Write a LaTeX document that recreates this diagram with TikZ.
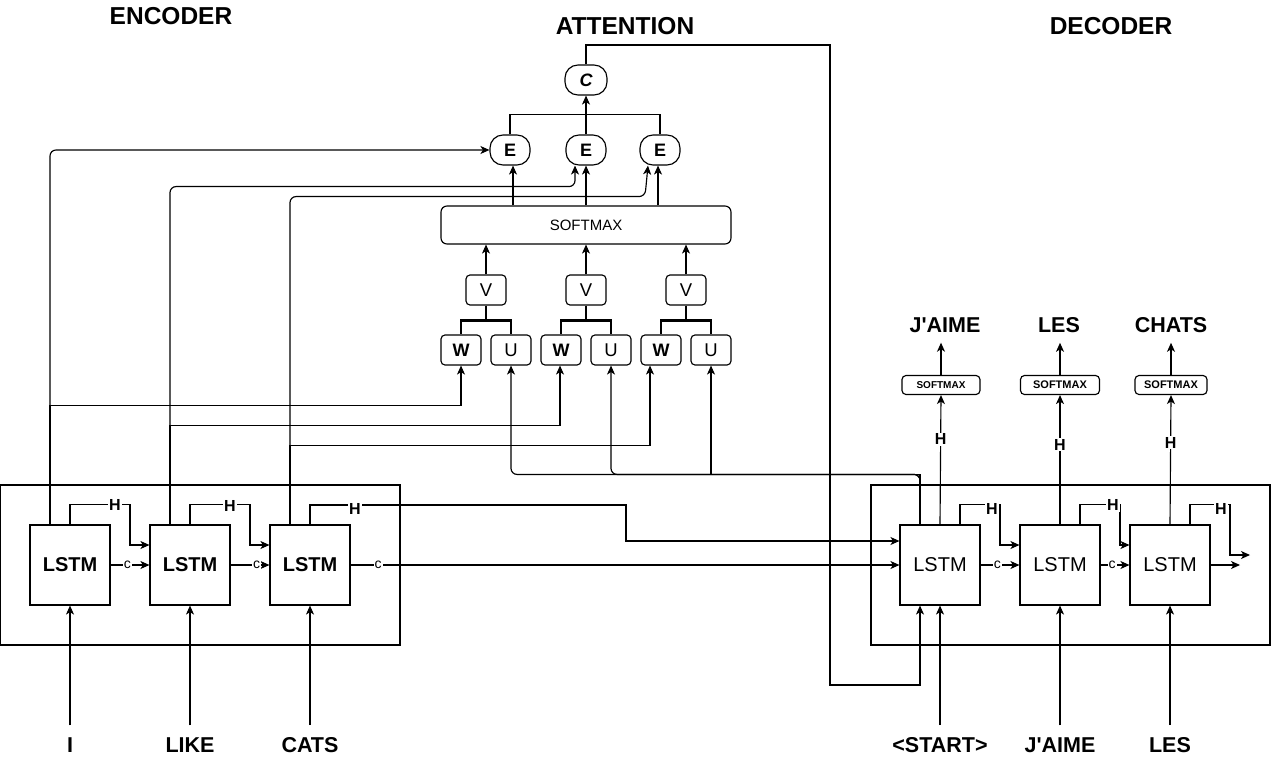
\documentclass[tikz,border=0pt]{standalone}
\usepackage{fontspec}
\setmainfont{Liberation Sans}
\usetikzlibrary{arrows.meta}
\tikzset{
  ln/.style={line width=1.15pt},
  arr/.style={ln,-{Stealth[length=9pt,width=8pt,inset=2.5pt]}},
  rc/.style={rounded corners=6pt},
  title/.style={font=\fontsize{24.5}{28}\selectfont\bfseries, inner sep=0pt},
  word/.style={font=\fontsize{21.5}{25}\selectfont\bfseries, inner sep=0pt},
  lstmE/.style={draw, ln, minimum width=80pt, minimum height=80pt, inner sep=0pt, font=\fontsize{20}{24}\selectfont\bfseries},
  lstmD/.style={draw, ln, minimum width=80pt, minimum height=80pt, inner sep=0pt, font=\fontsize{20}{24}\selectfont},
  outer/.style={draw, ln},
  ebox/.style={draw, ln, rounded corners=13pt, minimum width=40pt, minimum height=30pt, inner sep=0pt, font=\fontsize{18}{20}\selectfont\bfseries},
  sq/.style={draw, ln, rounded corners=4pt, minimum width=40pt, minimum height=30pt, inner sep=0pt, font=\fontsize{18.5}{20}\selectfont},
  smx/.style={draw, ln, rounded corners=4pt, minimum height=19pt, inner sep=0pt, font=\fontsize{11}{12}\selectfont\bfseries},
  hlab/.style={font=\fontsize{16}{18}\selectfont\bfseries, fill=white, inner sep=1pt},
  clab/.style={font=\fontsize{14}{16}\selectfont, fill=white, inner sep=1pt},
  thickln/.style={line width=2.2pt},
}
\begin{document}
\begin{tikzpicture}[x=1pt,y=-1pt]
\useasboundingbox (0,0) rectangle (1271,759);
\fill[white] (0,0) rectangle (1271,759);

% titles
\node[title] (tEnc) at (171,16) {ENCODER};
\node[title] (tAtt) at (625,26) {ATTENTION};
\node[title] (tDec) at (1111,26) {DECODER};

% outer boxes
\draw[outer] (0,485) rectangle (400,645);
\draw[outer] (871,485) rectangle (1270,645);

% encoder LSTMs
\node[lstmE] (eL1) at (70,565) {LSTM};
\node[lstmE] (eL2) at (190,565) {LSTM};
\node[lstmE] (eL3) at (310,565) {LSTM};

% decoder LSTMs
\node[lstmD] (dL1) at (940,565) {LSTM};
\node[lstmD] (dL2) at (1060,565) {LSTM};
\node[lstmD] (dL3) at (1170,565) {LSTM};

% bottom words
\node[word] (wI) at (70,745) {I};
\node[word] (wLike) at (190,745) {LIKE};
\node[word] (wCats) at (310,745) {CATS};
\node[word] (wStart) at (940,745) {<START>};
\node[word] (wJaime) at (1060,745) {J\textquotesingle AIME};
\node[word] (wLes) at (1170,745) {LES};

\foreach \w/\l in {wI/eL1,wLike/eL2,wCats/eL3,wStart/dL1,wJaime/dL2,wLes/dL3}
  \draw[arr] ([yshift=12pt]\w.north) -- (\l.south);

% attention nodes
\node[ebox, font=\fontsize{18}{20}\selectfont\bfseries\itshape, minimum width=42pt] (C) at (586,80) {C};
\node[ebox] (E1) at (510,150) {E};
\node[ebox] (E2) at (586,150) {E};
\node[ebox] (E3) at (660,150) {E};
\node[draw, ln, rounded corners=6pt, minimum width=290pt, minimum height=38pt, inner sep=0pt, font=\fontsize{15}{17}\selectfont] (SM) at (586,225) {SOFTMAX};
\node[sq] (V1) at (486,290) {V};
\node[sq] (V2) at (586,290) {V};
\node[sq] (V3) at (686,290) {V};
\node[sq, font=\fontsize{18}{20}\selectfont\bfseries] (W1) at (461,350) {W};
\node[sq] (U1) at (511,350) {U};
\node[sq, font=\fontsize{18}{20}\selectfont\bfseries] (W2) at (561,350) {W};
\node[sq] (U2) at (611,350) {U};
\node[sq, font=\fontsize{18}{20}\selectfont\bfseries] (W3) at (661,350) {W};
\node[sq] (U3) at (711,350) {U};

% V to W/U
\foreach \v/\w/\u in {V1/W1/U1,V2/W2/U2,V3/W3/U3}{
  \draw[thickln] (\v.south) -- ++(0,15) -| (\w.north);
  \draw[thickln] (\v.south) -- ++(0,15) -| (\u.north);
  \draw[arr] (\v.north) -- (\v.north |- SM.south);
}
% softmax to E
\draw[arr] ([xshift=3pt]E1.south |- SM.north) -- ([xshift=3pt]E1.south);
\draw[arr] (E2.south |- SM.north) -- (E2.south);
\draw[arr] ([xshift=-2pt]E3.south |- SM.north) -- ([xshift=-2pt]E3.south);
% E to C
\draw[ln] (E1.north) -- ++(0,-20) -| (E3.north);
\draw[arr] (E2.north) -- (C.south);

% encoder tops to E
\draw[arr, rc] ([xshift=-20pt]eL1.north) |- (E1.west);
\draw[arr, rc] ([xshift=-20pt]eL2.north) |- ([xshift=-11pt,yshift=-21pt]E2.south) -- ([xshift=-11pt]E2.south);
\draw[arr, rc] ([xshift=-20pt]eL3.north) |- ([xshift=-15pt,yshift=-31pt]E3.south) -- ([xshift=-12pt]E3.south);

% encoder tops to W
\draw[arr] ([xshift=-20pt]eL1.north) -- ++(0,-119) -| (W1.south);
\draw[arr] ([xshift=-20pt]eL2.north) -- ++(0,-99) -| ([xshift=-1pt]W2.south);
\draw[arr] ([xshift=-20pt]eL3.north) -- ++(0,-79) -| ([xshift=-11pt]W3.south);

% decoder top to U
\draw[arr, rc] ([xshift=-20pt]dL1.north) -- ++(0,-50) -| (U1.south);
\draw[arr, rc] ([xshift=-20pt]dL1.north) -- ++(0,-50) -| (U2.south);
\draw[arr] ([xshift=-20pt]dL1.north) -- ++(0,-50) -| (U3.south);

% context to decoder
\coordinate (ctop) at (830,45);
\coordinate (cbot) at (830,685);
\draw[arr] (C.north) |- (ctop) -- (cbot) -| ([xshift=-20pt]dL1.south);

% encoder H and c
\draw[arr] (eL1.north) -- ++(0,-20) -- ++(60,0) |- ([yshift=20pt]eL2.west);
\draw[arr] (eL2.north) -- ++(0,-20) -- ++(60,0) |- ([yshift=20pt]eL3.west);
\coordinate (hm) at (626,505);
\draw[arr] (eL3.north) |- (hm) |- ([yshift=24pt]dL1.west);
\node[hlab] (h1) at (115,505) {H};
\node[hlab] (h2) at (230,506) {H};
\node[hlab] (h3) at (355,509) {H};
\draw[arr] (eL1.east) -- node[clab, pos=0.43] (c1) {c} (eL2.west);
\draw[arr] (eL2.east) -- node[clab, pos=0.67] (c2) {c} (eL3.west);
\draw[arr] (eL3.east) -- node[clab, pos=0.05] (c3) {c} (dL1.west);

% decoder H and c
\draw[arr] ([xshift=20pt]dL1.north) -- ++(0,-20) -- ++(40,0) |- ([yshift=20pt]dL2.west);
\draw[arr] ([xshift=20pt]dL2.north) -- ++(0,-20) -- ++(40,0) |- ([yshift=20pt]dL3.west);
\coordinate (hout) at (1250,555);
\draw[arr] ([xshift=20pt]dL3.north) -- ++(0,-20) -- ++(40,0) |- (hout);
\node[hlab] (dh1) at (992,509) {H};
\node[hlab] (dh2) at (1113,505) {H};
\node[hlab] (dh3) at (1221,509) {H};
\draw[arr] (dL1.east) -- node[clab, pos=0.43] (dc1) {c} (dL2.west);
\draw[arr] (dL2.east) -- node[clab, pos=0.4] (dc2) {c} (dL3.west);
\coordinate (cout) at (1240,565);
\draw[arr] (dL3.east) -- (cout);

% decoder outputs
\node[smx, minimum width=78pt, font=\fontsize{10}{12}\selectfont\bfseries] (s1) at (941,385) {SOFTMAX};
\node[smx, minimum width=79pt] (s2) at (1060,385) {SOFTMAX};
\node[smx, minimum width=72pt] (s3) at (1171,385) {SOFTMAX};
\node[word] (o1) at (945,325) {J\textquotesingle AIME};
\node[word] (o2) at (1059,325) {LES};
\node[word] (o3) at (1171,325) {CHATS};
\draw[arr] (dL1.north) -- node[hlab, pos=0.66] (oh1) {H} (s1.south);
\draw[arr] (dL2.north) -- node[hlab, pos=0.615] (oh2) {H} (s2.south);
\draw[arr] (dL3.north) -- node[hlab, pos=0.63] (oh3) {H} (s3.south);
\draw[arr] (s1.north) -- ([yshift=-10pt]o1.south -| s1.north);
\draw[arr] (s2.north) -- ([yshift=-10pt]o2.south -| s2.north);
\draw[arr] (s3.north) -- ([yshift=-10pt]o3.south -| s3.north);
\end{tikzpicture}
\end{document}
